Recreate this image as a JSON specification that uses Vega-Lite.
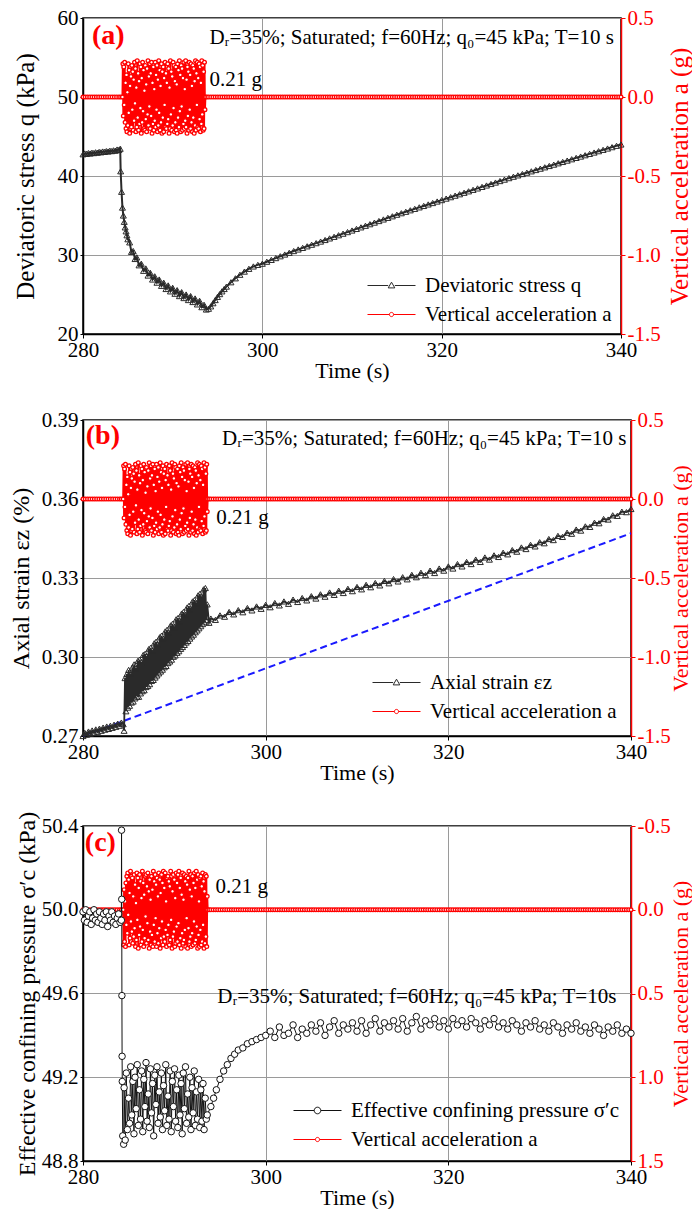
{
"$schema": "https://vega.github.io/schema/vega-lite/v6.json",
"padding": {"left": 8, "top": 6, "right": 0, "bottom": 0},
"background": "white",
"columns": 1,
"spacing": 26,
"config": {
  "font": "Liberation Serif",
  "view": {"stroke": "black", "strokeWidth": 1.5},
  "axis": {"labelFont": "Liberation Serif", "titleFont": "Liberation Serif", "labelFontSize": 21, "titleFontSize": 22, "titleFontWeight": "normal", "labelColor": "black", "titleColor": "black", "domainColor": "black", "tickColor": "black", "domainWidth": 1.5, "gridColor": "#9a9a9a", "gridWidth": 1},
  "legend": {"labelFont": "Liberation Serif", "labelFontSize": 21, "labelColor": "black", "labelLimit": 500}
},
"datasets": {
"acc": [
{"t":280,"a":0},{"t":280.25,"a":0},{"t":280.5,"a":0},{"t":280.75,"a":0},{"t":281,"a":0},{"t":281.25,"a":0},{"t":281.5,"a":0},{"t":281.75,"a":0},{"t":282,"a":0},{"t":282.25,"a":0},{"t":282.5,"a":0},{"t":282.75,"a":0},{"t":283,"a":0},{"t":283.25,"a":0},{"t":283.5,"a":0},{"t":283.75,"a":0},{"t":284,"a":0},{"t":284.2,"a":0},{"t":284.4,"a":0},
{"t":284.45,"a":0.21},{"t":284.5,"a":-0.12},{"t":284.55,"a":0.19},{"t":284.6,"a":-0.05},{"t":284.65,"a":0.22},{"t":284.7,"a":-0.16},{"t":284.75,"a":0.09},{"t":284.8,"a":-0.2},{"t":284.85,"a":0.14},{"t":284.9,"a":-0.22},
{"t":284.95,"a":0.03},{"t":285,"a":-0.18},{"t":285.05,"a":0.21},{"t":285.1,"a":-0.1},{"t":285.15,"a":0.17},{"t":285.2,"a":-0.23},{"t":285.25,"a":0.07},{"t":285.3,"a":-0.2},{"t":285.35,"a":0.13},{"t":285.4,"a":-0.19},
{"t":285.45,"a":0.2},{"t":285.5,"a":-0.08},{"t":285.55,"a":0.16},{"t":285.6,"a":-0.21},{"t":285.65,"a":0.11},{"t":285.7,"a":-0.15},{"t":285.75,"a":0.22},{"t":285.8,"a":-0.04},{"t":285.85,"a":0.18},{"t":285.9,"a":-0.22},
{"t":285.95,"a":0.06},{"t":286,"a":-0.19},{"t":286.05,"a":0.23},{"t":286.1,"a":-0.13},{"t":286.15,"a":0.15},{"t":286.2,"a":-0.21},{"t":286.25,"a":0.1},{"t":286.3,"a":-0.17},{"t":286.35,"a":0.21},{"t":286.4,"a":-0.07},
{"t":286.45,"a":0.19},{"t":286.5,"a":-0.23},{"t":286.55,"a":0.12},{"t":286.6,"a":-0.16},{"t":286.65,"a":0.22},{"t":286.7,"a":-0.09},{"t":286.75,"a":0.17},{"t":286.8,"a":-0.2},{"t":286.85,"a":0.04},{"t":286.9,"a":-0.21},
{"t":286.95,"a":0.2},{"t":287,"a":-0.14},{"t":287.05,"a":0.08},{"t":287.1,"a":-0.22},{"t":287.15,"a":0.18},{"t":287.2,"a":-0.11},{"t":287.25,"a":0.23},{"t":287.3,"a":-0.18},{"t":287.35,"a":0.13},{"t":287.4,"a":-0.06},
{"t":287.45,"a":0.21},{"t":287.5,"a":-0.2},{"t":287.55,"a":0.15},{"t":287.6,"a":-0.12},{"t":287.65,"a":0.22},{"t":287.7,"a":-0.23},{"t":287.75,"a":0.09},{"t":287.8,"a":-0.17},{"t":287.85,"a":0.19},{"t":287.9,"a":-0.21},
{"t":287.95,"a":0.05},{"t":288,"a":-0.15},{"t":288.05,"a":0.22},{"t":288.1,"a":-0.19},{"t":288.15,"a":0.14},{"t":288.2,"a":-0.08},{"t":288.25,"a":0.2},{"t":288.3,"a":-0.22},{"t":288.35,"a":0.11},{"t":288.4,"a":-0.18},
{"t":288.45,"a":0.23},{"t":288.5,"a":-0.1},{"t":288.55,"a":0.17},{"t":288.6,"a":-0.21},{"t":288.65,"a":0.07},{"t":288.7,"a":-0.16},{"t":288.75,"a":0.21},{"t":288.8,"a":-0.23},{"t":288.85,"a":0.16},{"t":288.9,"a":-0.13},
{"t":288.95,"a":0.19},{"t":289,"a":-0.22},{"t":289.05,"a":0.12},{"t":289.1,"a":-0.05},{"t":289.15,"a":0.22},{"t":289.2,"a":-0.19},{"t":289.25,"a":0.15},{"t":289.3,"a":-0.2},{"t":289.35,"a":0.09},{"t":289.4,"a":-0.17},
{"t":289.45,"a":0.21},{"t":289.5,"a":-0.14},{"t":289.55,"a":0.18},{"t":289.6,"a":-0.23},{"t":289.65,"a":0.06},{"t":289.7,"a":-0.2},{"t":289.75,"a":0.23},{"t":289.8,"a":-0.11},{"t":289.85,"a":0.16},{"t":289.9,"a":-0.21},
{"t":289.95,"a":0.13},{"t":290,"a":-0.18},{"t":290.05,"a":0.22},{"t":290.1,"a":-0.07},{"t":290.15,"a":0.2},{"t":290.2,"a":-0.22},{"t":290.25,"a":0.1},{"t":290.3,"a":-0.16},{"t":290.35,"a":0.19},{"t":290.4,"a":-0.21},
{"t":290.45,"a":0.08},{"t":290.5,"a":-0.23},{"t":290.55,"a":0.21},{"t":290.6,"a":-0.13},{"t":290.65,"a":0.17},{"t":290.7,"a":-0.19},{"t":290.75,"a":0.23},{"t":290.8,"a":-0.09},{"t":290.85,"a":0.14},{"t":290.9,"a":-0.22},
{"t":290.95,"a":0.2},{"t":291,"a":-0.06},{"t":291.05,"a":0.18},{"t":291.1,"a":-0.21},{"t":291.15,"a":0.12},{"t":291.2,"a":-0.17},{"t":291.25,"a":0.22},{"t":291.3,"a":-0.2},{"t":291.35,"a":0.05},{"t":291.4,"a":-0.15},
{"t":291.45,"a":0.23},{"t":291.5,"a":-0.19},{"t":291.55,"a":0.11},{"t":291.6,"a":-0.23},{"t":291.65,"a":0.19},{"t":291.7,"a":-0.12},{"t":291.75,"a":0.16},{"t":291.8,"a":-0.21},{"t":291.85,"a":0.22},{"t":291.9,"a":-0.08},
{"t":291.95,"a":0.14},{"t":292,"a":-0.2},{"t":292.05,"a":0.21},{"t":292.1,"a":-0.16},{"t":292.15,"a":0.07},{"t":292.2,"a":-0.22},{"t":292.25,"a":0.2},{"t":292.3,"a":-0.13},{"t":292.35,"a":0.18},{"t":292.4,"a":-0.23},
{"t":292.45,"a":0.1},{"t":292.5,"a":-0.18},{"t":292.55,"a":0.23},{"t":292.6,"a":-0.21},{"t":292.65,"a":0.15},{"t":292.7,"a":-0.05},{"t":292.75,"a":0.22},{"t":292.8,"a":-0.19},{"t":292.85,"a":0.12},{"t":292.9,"a":-0.2},
{"t":292.95,"a":0.21},{"t":293,"a":-0.14},{"t":293.05,"a":0.19},{"t":293.1,"a":-0.22},{"t":293.15,"a":0.09},{"t":293.2,"a":-0.17},{"t":293.25,"a":0.23},{"t":293.3,"a":-0.11},{"t":293.35,"a":0.2},{"t":293.4,"a":-0.21},
{"t":293.45,"a":0.16},{"t":293.5,"a":-0.2},{"t":293.55,"a":0.22},{"t":293.6,"a":-0.08},
{"t":293.65,"a":0},{"t":293.8,"a":0},{"t":294,"a":0},{"t":294.25,"a":0},{"t":294.5,"a":0},{"t":294.75,"a":0},{"t":295,"a":0},{"t":295.25,"a":0},{"t":295.5,"a":0},{"t":295.75,"a":0},{"t":296,"a":0},{"t":296.25,"a":0},{"t":296.5,"a":0},{"t":296.75,"a":0},{"t":297,"a":0},{"t":297.25,"a":0},{"t":297.5,"a":0},{"t":297.75,"a":0},{"t":298,"a":0},{"t":298.25,"a":0},{"t":298.5,"a":0},{"t":298.75,"a":0},{"t":299,"a":0},{"t":299.25,"a":0},{"t":299.5,"a":0},{"t":299.75,"a":0},
{"t":300,"a":0},{"t":300.25,"a":0},{"t":300.5,"a":0},{"t":300.75,"a":0},{"t":301,"a":0},{"t":301.25,"a":0},{"t":301.5,"a":0},{"t":301.75,"a":0},{"t":302,"a":0},{"t":302.25,"a":0},{"t":302.5,"a":0},{"t":302.75,"a":0},{"t":303,"a":0},{"t":303.25,"a":0},{"t":303.5,"a":0},{"t":303.75,"a":0},{"t":304,"a":0},{"t":304.25,"a":0},{"t":304.5,"a":0},{"t":304.75,"a":0},{"t":305,"a":0},{"t":305.25,"a":0},{"t":305.5,"a":0},{"t":305.75,"a":0},{"t":306,"a":0},{"t":306.25,"a":0},{"t":306.5,"a":0},{"t":306.75,"a":0},{"t":307,"a":0},{"t":307.25,"a":0},{"t":307.5,"a":0},{"t":307.75,"a":0},{"t":308,"a":0},{"t":308.25,"a":0},{"t":308.5,"a":0},{"t":308.75,"a":0},{"t":309,"a":0},{"t":309.25,"a":0},{"t":309.5,"a":0},{"t":309.75,"a":0},
{"t":310,"a":0},{"t":310.25,"a":0},{"t":310.5,"a":0},{"t":310.75,"a":0},{"t":311,"a":0},{"t":311.25,"a":0},{"t":311.5,"a":0},{"t":311.75,"a":0},{"t":312,"a":0},{"t":312.25,"a":0},{"t":312.5,"a":0},{"t":312.75,"a":0},{"t":313,"a":0},{"t":313.25,"a":0},{"t":313.5,"a":0},{"t":313.75,"a":0},{"t":314,"a":0},{"t":314.25,"a":0},{"t":314.5,"a":0},{"t":314.75,"a":0},{"t":315,"a":0},{"t":315.25,"a":0},{"t":315.5,"a":0},{"t":315.75,"a":0},{"t":316,"a":0},{"t":316.25,"a":0},{"t":316.5,"a":0},{"t":316.75,"a":0},{"t":317,"a":0},{"t":317.25,"a":0},{"t":317.5,"a":0},{"t":317.75,"a":0},{"t":318,"a":0},{"t":318.25,"a":0},{"t":318.5,"a":0},{"t":318.75,"a":0},{"t":319,"a":0},{"t":319.25,"a":0},{"t":319.5,"a":0},{"t":319.75,"a":0},
{"t":320,"a":0},{"t":320.25,"a":0},{"t":320.5,"a":0},{"t":320.75,"a":0},{"t":321,"a":0},{"t":321.25,"a":0},{"t":321.5,"a":0},{"t":321.75,"a":0},{"t":322,"a":0},{"t":322.25,"a":0},{"t":322.5,"a":0},{"t":322.75,"a":0},{"t":323,"a":0},{"t":323.25,"a":0},{"t":323.5,"a":0},{"t":323.75,"a":0},{"t":324,"a":0},{"t":324.25,"a":0},{"t":324.5,"a":0},{"t":324.75,"a":0},{"t":325,"a":0},{"t":325.25,"a":0},{"t":325.5,"a":0},{"t":325.75,"a":0},{"t":326,"a":0},{"t":326.25,"a":0},{"t":326.5,"a":0},{"t":326.75,"a":0},{"t":327,"a":0},{"t":327.25,"a":0},{"t":327.5,"a":0},{"t":327.75,"a":0},{"t":328,"a":0},{"t":328.25,"a":0},{"t":328.5,"a":0},{"t":328.75,"a":0},{"t":329,"a":0},{"t":329.25,"a":0},{"t":329.5,"a":0},{"t":329.75,"a":0},
{"t":330,"a":0},{"t":330.25,"a":0},{"t":330.5,"a":0},{"t":330.75,"a":0},{"t":331,"a":0},{"t":331.25,"a":0},{"t":331.5,"a":0},{"t":331.75,"a":0},{"t":332,"a":0},{"t":332.25,"a":0},{"t":332.5,"a":0},{"t":332.75,"a":0},{"t":333,"a":0},{"t":333.25,"a":0},{"t":333.5,"a":0},{"t":333.75,"a":0},{"t":334,"a":0},{"t":334.25,"a":0},{"t":334.5,"a":0},{"t":334.75,"a":0},{"t":335,"a":0},{"t":335.25,"a":0},{"t":335.5,"a":0},{"t":335.75,"a":0},{"t":336,"a":0},{"t":336.25,"a":0},{"t":336.5,"a":0},{"t":336.75,"a":0},{"t":337,"a":0},{"t":337.25,"a":0},{"t":337.5,"a":0},{"t":337.75,"a":0},{"t":338,"a":0},{"t":338.25,"a":0},{"t":338.5,"a":0},{"t":338.75,"a":0},{"t":339,"a":0},{"t":339.25,"a":0},{"t":339.5,"a":0},{"t":339.75,"a":0},{"t":340,"a":0}
],
"q": [
{"t":280,"q":42.75},{"t":280.2,"q":42.85},{"t":280.4,"q":42.8},{"t":280.6,"q":42.9},{"t":280.8,"q":42.85},{"t":281,"q":42.95},{"t":281.2,"q":42.9},{"t":281.4,"q":43},{"t":281.6,"q":42.95},{"t":281.8,"q":43.05},{"t":282,"q":43},{"t":282.2,"q":43.1},{"t":282.4,"q":43.05},{"t":282.6,"q":43.15},{"t":282.8,"q":43.1},{"t":283,"q":43.2},{"t":283.2,"q":43.15},{"t":283.4,"q":43.25},{"t":283.6,"q":43.2},{"t":283.8,"q":43.35},{"t":284,"q":43.3},{"t":284.15,"q":43.45},
{"t":284.2,"q":40.6},{"t":284.3,"q":38},{"t":284.4,"q":36},{"t":284.5,"q":35},{"t":284.6,"q":34.2},{"t":284.7,"q":33.5},{"t":284.8,"q":33},{"t":284.9,"q":32.5},{"t":285,"q":32},
{"t":285.2,"q":31.6},{"t":285.4,"q":30.4},{"t":285.6,"q":30.5},{"t":285.8,"q":29.5},{"t":286,"q":29.7},{"t":286.25,"q":28.7},{"t":286.5,"q":28.9},{"t":286.75,"q":28},{"t":287,"q":28.3},{"t":287.25,"q":27.4},{"t":287.5,"q":27.75},{"t":287.75,"q":26.9},{"t":288,"q":27.3},{"t":288.25,"q":26.5},{"t":288.5,"q":26.9},{"t":288.75,"q":26.1},{"t":289,"q":26.5},{"t":289.25,"q":25.7},{"t":289.5,"q":26.15},{"t":289.75,"q":25.4},{"t":290,"q":25.85},{"t":290.25,"q":25.1},{"t":290.5,"q":25.55},{"t":290.75,"q":24.8},{"t":291,"q":25.3},{"t":291.25,"q":24.55},{"t":291.5,"q":25},{"t":291.75,"q":24.3},{"t":292,"q":24.8},{"t":292.25,"q":24.05},{"t":292.5,"q":24.5},{"t":292.75,"q":23.75},{"t":293,"q":24.2},{"t":293.25,"q":23.4},{"t":293.5,"q":23.7},{"t":293.75,"q":23.1},
{"t":294,"q":23.2},{"t":294.25,"q":23.5},{"t":294.5,"q":23.9},{"t":294.75,"q":24.3},{"t":295,"q":24.7},{"t":295.25,"q":25.05},{"t":295.5,"q":25.4},{"t":295.75,"q":25.7},{"t":296,"q":26},{"t":296.5,"q":26.55},{"t":297,"q":27.05},{"t":297.5,"q":27.5},{"t":298,"q":27.9},{"t":298.5,"q":28.25},{"t":299,"q":28.55},{"t":299.5,"q":28.75},{"t":300,"q":28.9},
{"t":300.5,"q":29.15},{"t":301,"q":29.38},{"t":301.5,"q":29.61},{"t":302,"q":29.84},{"t":302.5,"q":30.06},{"t":303,"q":30.28},{"t":303.5,"q":30.5},{"t":304,"q":30.7},{"t":304.5,"q":30.9},{"t":305,"q":31.1},{"t":305.5,"q":31.3},{"t":306,"q":31.5},{"t":306.5,"q":31.7},{"t":307,"q":31.9},{"t":307.5,"q":32.1},{"t":308,"q":32.3},{"t":308.5,"q":32.5},{"t":309,"q":32.7},{"t":309.5,"q":32.9},{"t":310,"q":33.1},{"t":310.5,"q":33.3},{"t":311,"q":33.5},{"t":311.5,"q":33.7},{"t":312,"q":33.9},{"t":312.5,"q":34.1},{"t":313,"q":34.3},{"t":313.5,"q":34.5},{"t":314,"q":34.7},{"t":314.5,"q":34.9},{"t":315,"q":35.1},
{"t":315.5,"q":35.29},{"t":316,"q":35.47},{"t":316.5,"q":35.66},{"t":317,"q":35.84},{"t":317.5,"q":36.03},{"t":318,"q":36.21},{"t":318.5,"q":36.4},{"t":319,"q":36.58},{"t":319.5,"q":36.77},{"t":320,"q":36.95},{"t":320.5,"q":37.14},{"t":321,"q":37.32},{"t":321.5,"q":37.51},{"t":322,"q":37.69},{"t":322.5,"q":37.88},{"t":323,"q":38.06},{"t":323.5,"q":38.25},{"t":324,"q":38.43},{"t":324.5,"q":38.62},{"t":325,"q":38.8},{"t":325.5,"q":38.99},{"t":326,"q":39.17},{"t":326.5,"q":39.36},{"t":327,"q":39.54},{"t":327.5,"q":39.73},{"t":328,"q":39.91},
{"t":328.5,"q":40.08},{"t":329,"q":40.25},{"t":329.5,"q":40.42},{"t":330,"q":40.59},{"t":330.5,"q":40.76},{"t":331,"q":40.93},{"t":331.5,"q":41.1},{"t":332,"q":41.27},{"t":332.5,"q":41.44},{"t":333,"q":41.61},{"t":333.5,"q":41.78},{"t":334,"q":41.95},{"t":334.5,"q":42.12},{"t":335,"q":42.29},{"t":335.5,"q":42.46},{"t":336,"q":42.63},{"t":336.5,"q":42.8},{"t":337,"q":42.97},{"t":337.5,"q":43.14},{"t":338,"q":43.31},{"t":338.5,"q":43.48},{"t":339,"q":43.65},{"t":339.5,"q":43.82},{"t":340,"q":43.99}
],
"eps": [
{"t":280,"eps":0.27},{"t":280.2,"eps":0.2712},{"t":280.4,"eps":0.2705},{"t":280.6,"eps":0.2717},{"t":280.8,"eps":0.2709},{"t":281,"eps":0.2721},{"t":281.2,"eps":0.2713},{"t":281.4,"eps":0.2725},{"t":281.6,"eps":0.2716},{"t":281.8,"eps":0.2728},{"t":282,"eps":0.272},{"t":282.2,"eps":0.2732},{"t":282.4,"eps":0.2724},{"t":282.6,"eps":0.2736},{"t":282.8,"eps":0.2727},{"t":283,"eps":0.2739},{"t":283.2,"eps":0.2731},{"t":283.4,"eps":0.2743},{"t":283.6,"eps":0.2735},{"t":283.8,"eps":0.2747},{"t":284,"eps":0.2739},{"t":284.2,"eps":0.2751},{"t":284.4,"eps":0.2745},{"t":284.5,"eps":0.272},
{"t":284.6,"eps":0.292},{"t":284.7,"eps":0.2794},{"t":284.8,"eps":0.2935},{"t":284.9,"eps":0.2808},{"t":285,"eps":0.2951},{"t":285.1,"eps":0.2815},{"t":285.2,"eps":0.2938},{"t":285.3,"eps":0.2827},{"t":285.4,"eps":0.296},{"t":285.5,"eps":0.2831},
{"t":285.6,"eps":0.2972},{"t":285.7,"eps":0.2843},{"t":285.8,"eps":0.2958},{"t":285.9,"eps":0.285},{"t":286,"eps":0.2985},{"t":286.1,"eps":0.2849},{"t":286.2,"eps":0.299},{"t":286.3,"eps":0.2862},{"t":286.4,"eps":0.2981},{"t":286.5,"eps":0.287},
{"t":286.6,"eps":0.3008},{"t":286.7,"eps":0.2874},{"t":286.8,"eps":0.3012},{"t":286.9,"eps":0.2886},{"t":287,"eps":0.3003},{"t":287.1,"eps":0.289},{"t":287.2,"eps":0.303},{"t":287.3,"eps":0.2897},{"t":287.4,"eps":0.3035},{"t":287.5,"eps":0.2909},
{"t":287.6,"eps":0.3026},{"t":287.7,"eps":0.2913},{"t":287.8,"eps":0.3052},{"t":287.9,"eps":0.2922},{"t":288,"eps":0.3058},{"t":288.1,"eps":0.293},{"t":288.2,"eps":0.3047},{"t":288.3,"eps":0.2938},{"t":288.4,"eps":0.3075},{"t":288.5,"eps":0.2945},
{"t":288.6,"eps":0.3081},{"t":288.7,"eps":0.2952},{"t":288.8,"eps":0.307},{"t":288.9,"eps":0.2961},{"t":289,"eps":0.3097},{"t":289.1,"eps":0.2966},{"t":289.2,"eps":0.3103},{"t":289.3,"eps":0.2977},{"t":289.4,"eps":0.3092},{"t":289.5,"eps":0.2983},
{"t":289.6,"eps":0.312},{"t":289.7,"eps":0.299},{"t":289.8,"eps":0.3126},{"t":289.9,"eps":0.3001},{"t":290,"eps":0.3114},{"t":290.1,"eps":0.3006},{"t":290.2,"eps":0.3143},{"t":290.3,"eps":0.3016},{"t":290.4,"eps":0.3148},{"t":290.5,"eps":0.3022},
{"t":290.6,"eps":0.3137},{"t":290.7,"eps":0.3031},{"t":290.8,"eps":0.3165},{"t":290.9,"eps":0.3038},{"t":291,"eps":0.3171},{"t":291.1,"eps":0.3046},{"t":291.2,"eps":0.316},{"t":291.3,"eps":0.3055},{"t":291.4,"eps":0.3188},{"t":291.5,"eps":0.3061},
{"t":291.6,"eps":0.3194},{"t":291.7,"eps":0.307},{"t":291.8,"eps":0.3182},{"t":291.9,"eps":0.3078},{"t":292,"eps":0.3211},{"t":292.1,"eps":0.3085},{"t":292.2,"eps":0.3216},{"t":292.3,"eps":0.3094},{"t":292.4,"eps":0.3205},{"t":292.5,"eps":0.3101},
{"t":292.6,"eps":0.3234},{"t":292.7,"eps":0.3109},{"t":292.8,"eps":0.324},{"t":292.9,"eps":0.3117},{"t":293,"eps":0.3228},{"t":293.1,"eps":0.3125},{"t":293.2,"eps":0.3257},{"t":293.3,"eps":0.3132},{"t":293.4,"eps":0.3262},{"t":293.5,"eps":0.314},{"t":293.6,"eps":0.32},{"t":293.8,"eps":0.313},
{"t":294,"eps":0.3146},{"t":294.5,"eps":0.3141},{"t":295,"eps":0.3158},{"t":295.5,"eps":0.3153},{"t":296,"eps":0.3171},{"t":296.5,"eps":0.3162},{"t":297,"eps":0.3178},{"t":297.5,"eps":0.317},{"t":298,"eps":0.3186},{"t":298.5,"eps":0.3177},{"t":299,"eps":0.3192},{"t":299.5,"eps":0.3183},
{"t":300,"eps":0.3198},{"t":300.5,"eps":0.3189},{"t":301,"eps":0.3205},{"t":301.5,"eps":0.3196},{"t":302,"eps":0.3211},{"t":302.5,"eps":0.3202},{"t":303,"eps":0.3218},{"t":303.5,"eps":0.3209},{"t":304,"eps":0.3224},{"t":304.5,"eps":0.3215},{"t":305,"eps":0.3231},{"t":305.5,"eps":0.3222},{"t":306,"eps":0.3238},{"t":306.5,"eps":0.3229},{"t":307,"eps":0.3245},{"t":307.5,"eps":0.3236},{"t":308,"eps":0.3252},{"t":308.5,"eps":0.3243},{"t":309,"eps":0.3259},{"t":309.5,"eps":0.325},
{"t":310,"eps":0.3266},{"t":310.5,"eps":0.3257},{"t":311,"eps":0.3274},{"t":311.5,"eps":0.3265},{"t":312,"eps":0.3281},{"t":312.5,"eps":0.3272},{"t":313,"eps":0.3289},{"t":313.5,"eps":0.328},{"t":314,"eps":0.3296},{"t":314.5,"eps":0.3287},{"t":315,"eps":0.3303},{"t":315.5,"eps":0.3295},{"t":316,"eps":0.3312},{"t":316.5,"eps":0.3303},{"t":317,"eps":0.332},{"t":317.5,"eps":0.3311},{"t":318,"eps":0.3328},{"t":318.5,"eps":0.3319},{"t":319,"eps":0.3336},{"t":319.5,"eps":0.3328},
{"t":320,"eps":0.3344},{"t":320.5,"eps":0.3336},{"t":321,"eps":0.3353},{"t":321.5,"eps":0.3344},{"t":322,"eps":0.3361},{"t":322.5,"eps":0.3353},{"t":323,"eps":0.337},{"t":323.5,"eps":0.3361},{"t":324,"eps":0.3378},{"t":324.5,"eps":0.337},{"t":325,"eps":0.3386},{"t":325.5,"eps":0.338},{"t":326,"eps":0.3396},{"t":326.5,"eps":0.339},{"t":327,"eps":0.3406},{"t":327.5,"eps":0.34},{"t":328,"eps":0.3416},{"t":328.5,"eps":0.341},{"t":329,"eps":0.3426},{"t":329.5,"eps":0.342},
{"t":330,"eps":0.3436},{"t":330.5,"eps":0.3432},{"t":331,"eps":0.3448},{"t":331.5,"eps":0.3444},{"t":332,"eps":0.346},{"t":332.5,"eps":0.3456},{"t":333,"eps":0.3472},{"t":333.5,"eps":0.3468},{"t":334,"eps":0.3484},{"t":334.5,"eps":0.348},{"t":335,"eps":0.3496},{"t":335.5,"eps":0.3494},{"t":336,"eps":0.351},{"t":336.5,"eps":0.3508},{"t":337,"eps":0.3524},{"t":337.5,"eps":0.3522},{"t":338,"eps":0.3538},{"t":338.5,"eps":0.3536},{"t":339,"eps":0.3552},{"t":339.5,"eps":0.355},{"t":340,"eps":0.3562}
],
"sig": [
{"t":280,"sig":49.99},{"t":280.15,"sig":49.95},{"t":280.3,"sig":50},{"t":280.45,"sig":49.94},{"t":280.6,"sig":49.97},{"t":280.75,"sig":49.99},{"t":280.9,"sig":49.93},{"t":281.05,"sig":49.96},{"t":281.2,"sig":50},{"t":281.35,"sig":49.95},{"t":281.5,"sig":49.98},{"t":281.65,"sig":49.94},{"t":281.8,"sig":49.99},{"t":281.95,"sig":49.96},{"t":282.1,"sig":49.93},{"t":282.25,"sig":49.98},{"t":282.4,"sig":49.95},{"t":282.55,"sig":49.99},{"t":282.7,"sig":49.92},{"t":282.85,"sig":49.97},{"t":283,"sig":49.95},{"t":283.15,"sig":49.99},{"t":283.3,"sig":49.94},{"t":283.45,"sig":49.97},{"t":283.6,"sig":49.93},{"t":283.75,"sig":49.96},{"t":283.9,"sig":49.98},{"t":284.05,"sig":49.94},{"t":284.2,"sig":49.95},
{"t":284.22,"sig":50.38},{"t":284.24,"sig":50.05},{"t":284.26,"sig":49.59},{"t":284.28,"sig":49.3},{"t":284.3,"sig":49.18},{"t":284.35,"sig":48.92},{"t":284.45,"sig":48.88},
{"t":284.5,"sig":49.15},{"t":284.62,"sig":48.9},{"t":284.74,"sig":49.22},{"t":284.86,"sig":48.95},{"t":284.98,"sig":49.1},{"t":285.1,"sig":48.98},{"t":285.22,"sig":49.25},{"t":285.34,"sig":49.02},{"t":285.46,"sig":49.18},{"t":285.58,"sig":48.93},
{"t":285.7,"sig":49.2},{"t":285.82,"sig":49.05},{"t":285.94,"sig":49.26},{"t":286.06,"sig":48.97},{"t":286.18,"sig":49.14},{"t":286.3,"sig":49},{"t":286.42,"sig":49.23},{"t":286.54,"sig":48.94},{"t":286.66,"sig":49.19},{"t":286.78,"sig":49.06},
{"t":286.9,"sig":49.27},{"t":287.02,"sig":48.99},{"t":287.14,"sig":49.12},{"t":287.26,"sig":48.96},{"t":287.38,"sig":49.24},{"t":287.5,"sig":49.03},{"t":287.62,"sig":49.17},{"t":287.74,"sig":48.92},{"t":287.86,"sig":49.21},{"t":287.98,"sig":49.07},
{"t":288.1,"sig":49.25},{"t":288.22,"sig":48.98},{"t":288.34,"sig":49.13},{"t":288.46,"sig":49.01},{"t":288.58,"sig":49.22},{"t":288.7,"sig":48.95},{"t":288.82,"sig":49.16},{"t":288.94,"sig":49.04},{"t":289.06,"sig":49.26},{"t":289.18,"sig":48.97},
{"t":289.3,"sig":49.11},{"t":289.42,"sig":49},{"t":289.54,"sig":49.23},{"t":289.66,"sig":48.94},{"t":289.78,"sig":49.18},{"t":289.9,"sig":49.06},{"t":290.02,"sig":49.24},{"t":290.14,"sig":48.99},{"t":290.26,"sig":49.14},{"t":290.38,"sig":48.96},
{"t":290.5,"sig":49.21},{"t":290.62,"sig":49.02},{"t":290.74,"sig":49.17},{"t":290.86,"sig":48.93},{"t":290.98,"sig":49.22},{"t":291.1,"sig":49.05},{"t":291.22,"sig":49.25},{"t":291.34,"sig":48.98},{"t":291.46,"sig":49.12},{"t":291.58,"sig":49.01},
{"t":291.7,"sig":49.2},{"t":291.82,"sig":48.95},{"t":291.94,"sig":49.15},{"t":292.06,"sig":49.03},{"t":292.18,"sig":49.23},{"t":292.3,"sig":48.97},{"t":292.42,"sig":49.13},{"t":292.54,"sig":49},{"t":292.66,"sig":49.19},{"t":292.78,"sig":48.96},
{"t":292.9,"sig":49.14},{"t":293.02,"sig":48.99},{"t":293.14,"sig":49.17},{"t":293.26,"sig":48.95},{"t":293.38,"sig":49.1},{"t":293.5,"sig":49},
{"t":293.6,"sig":49.02},{"t":294,"sig":49.06},{"t":294.3,"sig":49.1},{"t":294.6,"sig":49.14},{"t":295,"sig":49.19},{"t":295.4,"sig":49.23},{"t":295.8,"sig":49.26},{"t":296.2,"sig":49.29},{"t":296.6,"sig":49.31},{"t":297,"sig":49.33},{"t":297.5,"sig":49.34},{"t":298,"sig":49.36},{"t":298.5,"sig":49.37},{"t":299,"sig":49.38},{"t":299.5,"sig":49.39},{"t":300,"sig":49.4},
{"t":300.5,"sig":49.42},{"t":301,"sig":49.39},{"t":301.5,"sig":49.44},{"t":302,"sig":49.4},{"t":302.5,"sig":49.41},{"t":303,"sig":49.45},{"t":303.5,"sig":49.39},{"t":304,"sig":49.43},{"t":304.5,"sig":49.41},{"t":305,"sig":49.45},{"t":305.5,"sig":49.42},{"t":306,"sig":49.46},{"t":306.5,"sig":49.4},{"t":307,"sig":49.44},{"t":307.5,"sig":49.47},{"t":308,"sig":49.41},{"t":308.5,"sig":49.45},{"t":309,"sig":49.43},{"t":309.5,"sig":49.46},{"t":310,"sig":49.42},
{"t":310.5,"sig":49.47},{"t":311,"sig":49.41},{"t":311.5,"sig":49.45},{"t":312,"sig":49.48},{"t":312.5,"sig":49.42},{"t":313,"sig":49.46},{"t":313.5,"sig":49.44},{"t":314,"sig":49.47},{"t":314.5,"sig":49.43},{"t":315,"sig":49.48},{"t":315.5,"sig":49.42},{"t":316,"sig":49.46},{"t":316.5,"sig":49.49},{"t":317,"sig":49.43},{"t":317.5,"sig":49.47},{"t":318,"sig":49.45},{"t":318.5,"sig":49.48},{"t":319,"sig":49.44},{"t":319.5,"sig":49.47},{"t":320,"sig":49.43},
{"t":320.5,"sig":49.48},{"t":321,"sig":49.45},{"t":321.5,"sig":49.47},{"t":322,"sig":49.44},{"t":322.5,"sig":49.48},{"t":323,"sig":49.46},{"t":323.5,"sig":49.43},{"t":324,"sig":49.47},{"t":324.5,"sig":49.45},{"t":325,"sig":49.48},{"t":325.5,"sig":49.44},{"t":326,"sig":49.46},{"t":326.5,"sig":49.43},{"t":327,"sig":49.47},{"t":327.5,"sig":49.45},{"t":328,"sig":49.42},{"t":328.5,"sig":49.46},{"t":329,"sig":49.44},{"t":329.5,"sig":49.47},{"t":330,"sig":49.43},
{"t":330.5,"sig":49.45},{"t":331,"sig":49.42},{"t":331.5,"sig":49.46},{"t":332,"sig":49.44},{"t":332.5,"sig":49.41},{"t":333,"sig":49.45},{"t":333.5,"sig":49.43},{"t":334,"sig":49.46},{"t":334.5,"sig":49.42},{"t":335,"sig":49.44},{"t":335.5,"sig":49.41},{"t":336,"sig":49.45},{"t":336.5,"sig":49.43},{"t":337,"sig":49.4},{"t":337.5,"sig":49.44},{"t":338,"sig":49.42},{"t":338.5,"sig":49.45},{"t":339,"sig":49.41},{"t":339.5,"sig":49.43},{"t":340,"sig":49.41}
]
},
"concat": [
{
 "width": 538, "height": 316,
 "encoding": {"x": {"field": "t", "type": "quantitative", "scale": {"domain": [280, 340], "nice": false, "zero": false}, "axis": {"title": "Time (s)", "values": [280, 300, 320, 340], "format": "d", "grid": true, "tickSize": 4, "labelPadding": 1, "titlePadding": 0, "labelFlush": false}}},
 "layer": [
  {"data": {"name": "acc"},
   "encoding": {"y": {"field": "a", "type": "quantitative", "scale": {"domain": [-1.5, 0.5], "nice": false, "zero": false}, "axis": {"orient": "right", "title": "Vertical acceleration a (g)", "titleAngle": 270, "titleBaseline": "top", "titleFontSize": 25, "values": [-1.5, -1, -0.5, 0, 0.5], "labelExpr": "datum.value < 0 ? '-' + format(-datum.value, '.1f') : format(datum.value, '.1f')", "grid": false, "tickSize": 4, "labelPadding": 2, "titlePadding": 7, "labelColor": "#ff0000", "titleColor": "#ff0000", "domainColor": "#ff0000", "tickColor": "#ff0000"}}},
   "layer": [
    {"mark": {"type": "line", "strokeWidth": 2}, "encoding": {"color": {"datum": "Vertical acceleration a", "scale": {"domain": ["Deviatoric stress q", "Vertical acceleration a"], "range": ["#2a2a2a", "#ff0000"]}, "legend": {"title": null, "orient": "bottom-right", "offset": 9, "symbolSize": 144, "symbolStrokeWidth": 1, "symbolOpacity": 1, "symbolFillColor": "white", "symbolType": "M-4,0H-0.55M0.55,0H4M0,-0.55L0.55,0.4L-0.55,0.4Z", "labelOffset": 23, "rowPadding": 7, "padding": 0, "encode": {"symbols": {"update": {"shape": {"signal": "datum.value === 'Vertical acceleration a' ? 'M-4,0H-0.35M0.35,0H4M0.35,0A0.35,0.35,0,1,1,-0.35,0A0.35,0.35,0,1,1,0.35,0Z' : 'M-4,0H-0.55M0.55,0H4M0,-0.55L0.55,0.4L-0.55,0.4Z'"}}}}}}}},
    {"mark": {"type": "point", "shape": "circle", "filled": false, "fill": "white", "size": 14, "strokeWidth": 1.3, "opacity": 1}, "encoding": {"color": {"datum": "Vertical acceleration a", "scale": {"domain": ["Deviatoric stress q", "Vertical acceleration a"], "range": ["#2a2a2a", "#ff0000"]}}}}
   ]},
  {"encoding": {"y": {"field": "q", "type": "quantitative", "scale": {"domain": [20, 60], "nice": false, "zero": false}, "axis": {"orient": "left", "title": "Deviatoric stress q (kPa)", "titleFontSize": 25, "values": [20, 30, 40, 50, 60], "format": "d", "grid": true, "tickSize": 3, "labelPadding": 2, "titlePadding": 19}}},
   "layer": [
    {"data": {"name": "q"}, "mark": {"type": "line", "strokeWidth": 2}, "encoding": {"color": {"datum": "Deviatoric stress q", "scale": {"domain": ["Deviatoric stress q", "Vertical acceleration a"], "range": ["#2a2a2a", "#ff0000"]}}}},
    {"data": {"name": "q"}, "mark": {"type": "point", "shape": "triangle-up", "filled": false, "size": 36, "strokeWidth": 1, "opacity": 1}, "encoding": {"color": {"datum": "Deviatoric stress q", "scale": {"domain": ["Deviatoric stress q", "Vertical acceleration a"], "range": ["#2a2a2a", "#ff0000"]}}}},
    {"data": {"values": [{"t": 281, "q": 57.7, "label": "(a)"}]}, "mark": {"type": "text", "align": "left", "baseline": "middle", "fontSize": 28, "fontWeight": "bold", "color": "#ff0000"}, "encoding": {"text": {"field": "label"}}},
    {"data": {"values": [{"t": 339.2, "q": 57.5, "label": "Dᵣ=35%; Saturated; f=60Hz; q₀=45 kPa; T=10 s"}]}, "mark": {"type": "text", "align": "right", "baseline": "middle", "fontSize": 21, "color": "black"}, "encoding": {"text": {"field": "label"}}},
    {"data": {"values": [{"t": 294.1, "q": 52.2, "label": "0.21 g"}]}, "mark": {"type": "text", "align": "left", "baseline": "middle", "fontSize": 21, "color": "black"}, "encoding": {"text": {"field": "label"}}}
   ]}
 ],
 "resolve": {"scale": {"y": "independent"}}
},
{
 "width": 548, "height": 316,
 "encoding": {"x": {"field": "t", "type": "quantitative", "scale": {"domain": [280, 340], "nice": false, "zero": false}, "axis": {"title": "Time (s)", "values": [280, 300, 320, 340], "format": "d", "grid": true, "tickSize": 4, "labelPadding": 1, "titlePadding": 0, "labelFlush": false}}},
 "layer": [
  {"data": {"name": "acc"},
   "encoding": {"y": {"field": "a", "type": "quantitative", "scale": {"domain": [-1.5, 0.5], "nice": false, "zero": false}, "axis": {"orient": "right", "title": "Vertical acceleration a (g)", "titleAngle": 270, "titleBaseline": "top", "titleFontSize": 22, "values": [-1.5, -1, -0.5, 0, 0.5], "labelExpr": "datum.value < 0 ? '-' + format(-datum.value, '.1f') : format(datum.value, '.1f')", "grid": false, "tickSize": 4, "labelPadding": 2, "titlePadding": 0, "labelColor": "#ff0000", "titleColor": "#ff0000", "domainColor": "#ff0000", "tickColor": "#ff0000"}}},
   "layer": [
    {"mark": {"type": "line", "strokeWidth": 2}, "encoding": {"color": {"datum": "Vertical acceleration a", "scale": {"domain": ["Axial strain εz", "Vertical acceleration a"], "range": ["#2a2a2a", "#ff0000"]}, "legend": {"title": null, "orient": "bottom-right", "offset": 14, "symbolSize": 144, "symbolStrokeWidth": 1, "symbolOpacity": 1, "symbolFillColor": "white", "symbolType": "M-4,0H-0.55M0.55,0H4M0,-0.55L0.55,0.4L-0.55,0.4Z", "labelOffset": 23, "rowPadding": 7, "padding": 0, "encode": {"symbols": {"update": {"shape": {"signal": "datum.value === 'Vertical acceleration a' ? 'M-4,0H-0.35M0.35,0H4M0.35,0A0.35,0.35,0,1,1,-0.35,0A0.35,0.35,0,1,1,0.35,0Z' : 'M-4,0H-0.55M0.55,0H4M0,-0.55L0.55,0.4L-0.55,0.4Z'"}}}}}}}},
    {"mark": {"type": "point", "shape": "circle", "filled": false, "fill": "white", "size": 14, "strokeWidth": 1.3, "opacity": 1}, "encoding": {"color": {"datum": "Vertical acceleration a", "scale": {"domain": ["Axial strain εz", "Vertical acceleration a"], "range": ["#2a2a2a", "#ff0000"]}}}}
   ]},
  {"encoding": {"y": {"field": "eps", "type": "quantitative", "scale": {"domain": [0.27, 0.39], "nice": false, "zero": false}, "axis": {"orient": "left", "title": "Axial strain εz (%)", "titleFontSize": 24, "values": [0.27, 0.3, 0.33, 0.36, 0.39], "format": ".2f", "grid": true, "tickSize": 3, "labelPadding": 2, "titlePadding": 8}}},
   "layer": [
    {"data": {"values": [{"t": 280, "eps": 0.27}, {"t": 340, "eps": 0.347}]}, "mark": {"type": "line", "color": "#1a1aff", "strokeWidth": 2, "strokeDash": [7, 4]}},
    {"data": {"name": "eps"}, "mark": {"type": "line", "strokeWidth": 1.8}, "encoding": {"color": {"datum": "Axial strain εz", "scale": {"domain": ["Axial strain εz", "Vertical acceleration a"], "range": ["#2a2a2a", "#ff0000"]}}}},
    {"data": {"name": "eps"}, "mark": {"type": "point", "shape": "triangle-up", "filled": false, "size": 36, "strokeWidth": 1, "opacity": 1}, "encoding": {"color": {"datum": "Axial strain εz", "scale": {"domain": ["Axial strain εz", "Vertical acceleration a"], "range": ["#2a2a2a", "#ff0000"]}}}},
    {"data": {"values": [{"t": 280.3, "eps": 0.3838, "label": "(b)"}]}, "mark": {"type": "text", "align": "left", "baseline": "middle", "fontSize": 28, "fontWeight": "bold", "color": "#ff0000"}, "encoding": {"text": {"field": "label"}}},
    {"data": {"values": [{"t": 339.5, "eps": 0.3828, "label": "Dᵣ=35%; Saturated; f=60Hz; q₀=45 kPa; T=10 s"}]}, "mark": {"type": "text", "align": "right", "baseline": "middle", "fontSize": 21, "color": "black"}, "encoding": {"text": {"field": "label"}}},
    {"data": {"values": [{"t": 294.6, "eps": 0.3528, "label": "0.21 g"}]}, "mark": {"type": "text", "align": "left", "baseline": "middle", "fontSize": 21, "color": "black"}, "encoding": {"text": {"field": "label"}}}
   ]}
 ],
 "resolve": {"scale": {"y": "independent"}}
},
{
 "width": 548, "height": 335,
 "encoding": {"x": {"field": "t", "type": "quantitative", "scale": {"domain": [280, 340], "nice": false, "zero": false}, "axis": {"title": "Time (s)", "values": [280, 300, 320, 340], "format": "d", "grid": true, "tickSize": 4, "labelPadding": 1, "titlePadding": 0, "labelFlush": false}}},
 "layer": [
  {"data": {"name": "acc"},
   "encoding": {"y": {"field": "a", "type": "quantitative", "scale": {"domain": [-0.5, 1.5], "reverse": true, "nice": false, "zero": false}, "axis": {"orient": "right", "title": "Vertical acceleration a (g)", "titleAngle": 270, "titleBaseline": "top", "titleFontSize": 22, "values": [-0.5, 0, 0.5, 1, 1.5], "labelExpr": "datum.value < 0 ? '-' + format(-datum.value, '.1f') : format(datum.value, '.1f')", "grid": false, "tickSize": 4, "labelPadding": 2, "titlePadding": 0, "labelColor": "#ff0000", "titleColor": "#ff0000", "domainColor": "#ff0000", "tickColor": "#ff0000"}}},
   "layer": [
    {"mark": {"type": "line", "strokeWidth": 2}, "encoding": {"color": {"datum": "Vertical acceleration a", "scale": {"domain": ["Effective confining pressure σ′c", "Vertical acceleration a"], "range": ["#111111", "#ff0000"]}, "legend": {"title": null, "orient": "bottom-right", "offset": 11, "symbolSize": 144, "symbolStrokeWidth": 1, "symbolOpacity": 1, "symbolFillColor": "white", "symbolType": "M-4,0H-0.55M0.55,0H4M0.55,0A0.55,0.55,0,1,1,-0.55,0A0.55,0.55,0,1,1,0.55,0Z", "labelOffset": 23, "rowPadding": 7, "padding": 0, "encode": {"symbols": {"update": {"shape": {"signal": "datum.value === 'Vertical acceleration a' ? 'M-4,0H-0.35M0.35,0H4M0.35,0A0.35,0.35,0,1,1,-0.35,0A0.35,0.35,0,1,1,0.35,0Z' : 'M-4,0H-0.55M0.55,0H4M0.55,0A0.55,0.55,0,1,1,-0.55,0A0.55,0.55,0,1,1,0.55,0Z'"}}}}}}}},
    {"mark": {"type": "point", "shape": "circle", "filled": false, "fill": "white", "size": 14, "strokeWidth": 1.3, "opacity": 1}, "encoding": {"color": {"datum": "Vertical acceleration a", "scale": {"domain": ["Effective confining pressure σ′c", "Vertical acceleration a"], "range": ["#111111", "#ff0000"]}}}}
   ]},
  {"encoding": {"y": {"field": "sig", "type": "quantitative", "scale": {"domain": [48.8, 50.4], "nice": false, "zero": false}, "axis": {"orient": "left", "title": "Effective confining pressure σ′c (kPa)", "titleFontSize": 24, "values": [48.8, 49.2, 49.6, 50, 50.4], "format": ".1f", "grid": true, "tickSize": 3, "labelPadding": 2, "titlePadding": 2}}},
   "layer": [
    {"data": {"name": "sig"}, "mark": {"type": "line", "strokeWidth": 1}, "encoding": {"color": {"datum": "Effective confining pressure σ′c", "scale": {"domain": ["Effective confining pressure σ′c", "Vertical acceleration a"], "range": ["#111111", "#ff0000"]}}}},
    {"data": {"name": "sig"}, "mark": {"type": "point", "shape": "circle", "filled": false, "fill": "white", "size": 42, "strokeWidth": 1, "opacity": 1}, "encoding": {"color": {"datum": "Effective confining pressure σ′c", "scale": {"domain": ["Effective confining pressure σ′c", "Vertical acceleration a"], "range": ["#111111", "#ff0000"]}}}},
    {"data": {"values": [{"t": 280.2, "sig": 50.32, "label": "(c)"}]}, "mark": {"type": "text", "align": "left", "baseline": "middle", "fontSize": 28, "fontWeight": "bold", "color": "#ff0000"}, "encoding": {"text": {"field": "label"}}},
    {"data": {"values": [{"t": 338.4, "sig": 49.585, "label": "Dᵣ=35%; Saturated; f=60Hz; q₀=45 kPa; T=10s"}]}, "mark": {"type": "text", "align": "right", "baseline": "middle", "fontSize": 21, "color": "black"}, "encoding": {"text": {"field": "label"}}},
    {"data": {"values": [{"t": 294.5, "sig": 50.11, "label": "0.21 g"}]}, "mark": {"type": "text", "align": "left", "baseline": "middle", "fontSize": 21, "color": "black"}, "encoding": {"text": {"field": "label"}}}
   ]}
 ],
 "resolve": {"scale": {"y": "independent"}}
}
],
"resolve": {"scale": {"color": "independent"}, "legend": {"color": "independent"}}
}
